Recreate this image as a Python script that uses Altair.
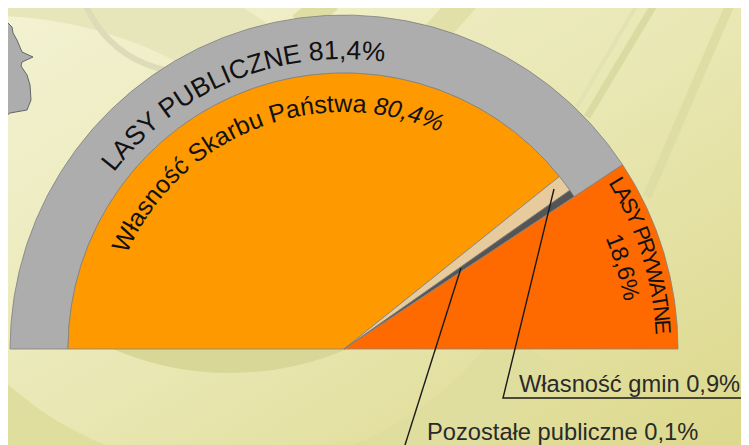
import math
import altair as alt
import pandas as pd

W, H = 733, 437
OFF = 8                     # page margin: the lists below are in picture pixels
CX, CY = 344, 349
R_OUT, R_IN = 334, 276
DOM = [0, 100]
RNG = [-math.pi / 2, math.pi / 2]

# shares as drawn in the picture (percent of the half circle)
inner_names = ["Własność Skarbu Państwa", "Własność gmin", "Pozostałe publiczne", "Lasy prywatne"]
inner_values = [78.5, 2.0, 0.9, 18.6]
inner_colors = ["#FF9900", "#E8CB9C", "#555555", "#FF6A00"]
ring_values = [81.4]

map_x = [0, 5, 12, 13, 17, 22, 33, 22, 21, 27, 30, 31, 27, 10, 3, 2, 0]
map_y = [13, 20, 27, 33, 40, 52, 57, 62, 66, 75, 85, 100, 110, 113, 118, 123, 125]

bend_labels = [
    ("LASY PUBLICZNE 81,4%", 26.5, 290, 37.5, False, 1.0),
    ("Własność Skarbu Państwa", 25, 237, 23.5, False, 1.0),
    ("80,4%", 24.5, 237, 97.0, True, 1.0),
    ("LASY PRYWATNE", 22, 312, 148.0, False, .85),
    ("18,6%", 23.5, 284, 157.0, False, 1.0),
]

CHAR_W = {" ": .278, ",": .278, "%": .889, "ł": .222, "ś": .5, "ć": .5, "ń": .556, "ą": .556,
          "W": .944, "S": .667, "P": .667, "L": .556, "A": .667, "Y": .667, "U": .722, "B": .667,
          "I": .278, "C": .722, "Z": .611, "N": .722, "E": .667, "R": .722, "T": .611,
          "i": .222, "l": .222, "t": .278, "f": .278, "r": .333, "k": .5, "s": .5, "c": .5,
          "z": .5, "a": .556, "n": .556, "o": .556, "w": .722, "b": .556, "u": .556}


def bend(text, size, radius, start_deg, track):
    rows, pos = [], start_deg
    for ch in text:
        step = math.degrees(CHAR_W.get(ch, .556) * size * track / radius)
        mid = pos + step / 2
        rows.append({"ch": ch, "t": mid / 1.8, "r": radius, "a": (mid - 90) % 360})
        pos += step
    return pd.DataFrame(rows)


theta_scale = alt.Scale(domain=DOM, range=RNG)
x_px = alt.Scale(domain=[OFF, W + OFF], range=[0, W])
y_px = alt.Scale(domain=[OFF, H + OFF], range=[0, H])
X = lambda f: alt.X(f, scale=x_px, axis=None)
Y = lambda f: alt.Y(f, scale=y_px, axis=None)

bg = alt.Chart(pd.DataFrame({"a": [0]})).mark_rect(
    color=alt.LinearGradient(gradient="linear", x1=0, y1=0, x2=1, y2=1,
                             stops=[alt.GradientStop(color="#F3F2D2", offset=0),
                                    alt.GradientStop(color="#E8E6B0", offset=.55),
                                    alt.GradientStop(color="#DCD88C", offset=1)])
).encode(x=alt.value(0), x2=alt.value(W), y=alt.value(0), y2=alt.value(H))

# decorative rings of the backdrop: centre x, centre y, inner r, outer r, from, to (degrees), colour
rings = [
    (230, 74, 270, 299, 155, 205, "#D8D797"),
    (229, 138, 331, 395, 125, 235, "#DFDE9F"),
    (-9, 416, 400, 480, 0, 60, "#E6E6BA"),
    (187, -38, 107, 113, 185, 275, "#DCDCB8"),
]
ring_layers = []
for cx, cy, r0, r1, a0, a1, col in rings:
    ring_layers.append(alt.Chart(pd.DataFrame({"a": [a0], "b": [a1]})).mark_arc(
        color=col, radius=r1, radius2=r0
    ).encode(x=alt.value(cx - OFF), y=alt.value(cy - OFF),
             theta=alt.Theta("a:Q", scale=alt.Scale(domain=[0, 360], range=[0, 2 * math.pi])), theta2="b:Q"))

# diagonal streaks of the backdrop: x0, y0, x1, y1, width, colour
streaks = [
    (330, 0, 300, 25, 24, "#DEDEA4"),
    (466, 0, 425, 45, 26, "#E0E0A8"),
    (657, 0, 587, 117, 7, "#DADBA2"),
    (640, 0, 575, 110, 4, "#E2E2B2"),
    (732, 0, 647, 197, 9, "#DEDEA4"),
]
streak_layers = []
for x0, y0, x1, y1, w, col in streaks:
    streak_layers.append(alt.Chart(pd.DataFrame({"x": [x0, x1], "y": [y0, y1], "o": [0, 1]})).mark_line(
        color=col, strokeWidth=w
    ).encode(x=X("x:Q"), y=Y("y:Q"), order="o:Q"))

map_df = pd.DataFrame({"x": map_x, "y": map_y, "o": range(len(map_x))})
land = alt.Chart(map_df).mark_area(orient="horizontal", color="#ADADAD").encode(
    y=Y("y:Q"), x=X("x:Q"), x2=alt.value(-OFF))
land_edge = alt.Chart(map_df).mark_line(color="#666666", strokeWidth=1).encode(
    x=X("x:Q"), y=Y("y:Q"), order="o:Q")

cum = 0
rows = []
for n, v, c in zip(inner_names, inner_values, inner_colors):
    rows.append({"name": n, "s": cum, "e": cum + v, "c": c, "r": R_OUT if n == "Lasy prywatne" else R_IN})
    cum += v
inner = pd.DataFrame(rows)

slices = alt.Chart(inner).mark_arc(stroke="#808080", strokeWidth=0.8).encode(
    x=alt.value(CX - OFF), y=alt.value(CY - OFF),
    theta=alt.Theta("s:Q", scale=theta_scale), theta2="e:Q",
    radius=alt.Radius("r:Q", scale=None),
    color=alt.Color("c:N", scale=None),
)
ring = alt.Chart(pd.DataFrame({"s": [0], "e": ring_values})).mark_arc(
    stroke="#808080", strokeWidth=0.8, color="#ADADAD", radius=R_OUT, radius2=R_IN
).encode(x=alt.value(CX - OFF), y=alt.value(CY - OFF), theta=alt.Theta("s:Q", scale=theta_scale), theta2="e:Q")

layers = [bg] + ring_layers + streak_layers + [land, land_edge, ring, slices]
for text, size, radius, start, italic, track in bend_labels:
    layers.append(alt.Chart(bend(text, size, radius, start, track)).mark_text(
        font="Liberation Sans", fontSize=size, fontStyle="italic" if italic else "normal",
        align="center", baseline="alphabetic", color="#111111"
    ).encode(x=alt.value(CX - OFF), y=alt.value(CY - OFF), text="ch:N",
             theta=alt.Theta("t:Q", scale=theta_scale),
             radius=alt.Radius("r:Q", scale=None), angle=alt.Angle("a:Q", scale=None)))

leader_a = pd.DataFrame({"x": [554, 503, 741], "y": [189, 398, 398], "o": [0, 1, 2]})
leader_b = pd.DataFrame({"x": [461, 405], "y": [268, 445], "o": [0, 1]})
for d in (leader_a, leader_b):
    layers.append(alt.Chart(d).mark_line(color="#1A1A1A", strokeWidth=1.4).encode(
        x=X("x:Q"), y=Y("y:Q"), order="o:Q"))

labels = pd.DataFrame({"t": ["Własność gmin 0,9%", "Pozostałe publiczne 0,1%"], "x": [519, 427], "y": [392, 440]})
layers.append(alt.Chart(labels).mark_text(font="Liberation Sans", fontSize=23.7, align="left",
                                          baseline="alphabetic", color="#2A2A2A").encode(
    x=X("x:Q"), y=Y("y:Q"), text="t:N"))

chart = alt.layer(*layers).resolve_scale(theta="independent").properties(
    width=W, height=H, padding=0, autosize=alt.AutoSizeParams(type="none"),
    background="#ECEAC0", view=alt.ViewConfig(stroke=None)
)
chart.save("out.html", embed_options={"renderer": "svg", "actions": False})
